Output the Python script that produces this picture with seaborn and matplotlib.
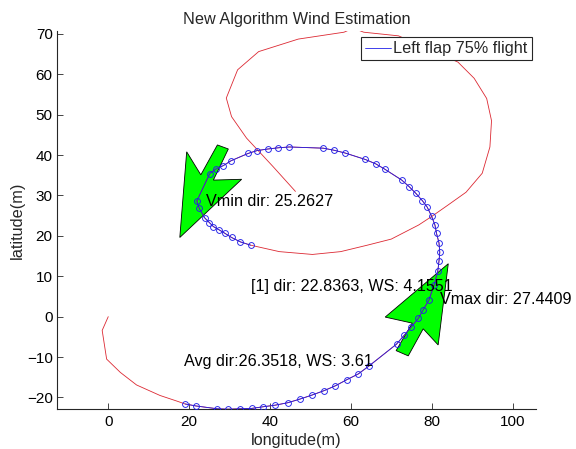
import matplotlib
matplotlib.use("Agg")
import matplotlib.pyplot as plt
import seaborn as sns
import pandas as pd

# ---------------- data ----------------
red_start_x = [0.0, -1.5, -0.4, 3.0, 7.0, 12.8, 17.0]
red_start_y = [0.0, -3.4, -10.5, -13.8, -16.9, -19.5, -20.9]

blue_x = [19.0, 21.7, 27.0, 29.6, 32.5, 35.5, 38.3, 41.3, 44.4, 47.4, 50.4, 53.4,
          56.2, 59.0, 61.8, 64.5, 71.3, 73.2, 75.0, 76.7, 77.9, 79.3, 80.6, 81.5,
          81.8, 82.0, 81.8, 81.2, 80.8, 80.0, 78.9, 77.7, 76.1, 74.4, 72.6, 68.4,
          66.2, 63.6, 58.6, 55.8, 53.2, 44.8, 42.1, 39.5, 36.8, 34.6, 30.4, 28.5,
          26.7, 25.1, 21.9, 22.5, 23.9, 25.0, 26.0, 27.4, 28.9, 30.5, 32.7, 35.2]
blue_y = [-21.6, -22.1, -22.8, -22.9, -22.8, -22.7, -22.3, -21.9, -21.3, -20.4, -19.4, -18.3,
          -17.1, -15.6, -14.2, -12.2, -6.8, -4.6, -2.5, -0.4, 1.7, 4.1, 7.8, 11.2,
          13.7, 15.9, 18.3, 20.6, 22.7, 24.8, 27.1, 28.7, 30.5, 32.2, 33.8, 36.5,
          37.8, 38.9, 40.5, 41.2, 41.7, 42.0, 41.8, 41.5, 41.1, 40.4, 38.6, 37.4,
          36.6, 35.4, 28.6, 26.8, 24.4, 23.3, 22.3, 21.5, 20.6, 19.6, 18.5, 17.7]

red_end_x = [42.3, 50.5, 57.5, 64.1, 70.0, 76.8, 80.0, 84.0, 88.5, 92.5, 94.4, 94.8,
             93.6, 90.5, 86.5, 71.8, 63.2, 60.6, 58.3, 47.0, 37.2, 32.0, 29.2, 30.5,
             34.2, 40.8, 46.3]
red_end_y = [16.1, 15.4, 16.1, 17.7, 19.2, 22.7, 24.8, 27.6, 30.8, 35.5, 42.0, 48.5,
             54.0, 59.0, 63.0, 69.5, 70.4, 71.4, 70.4, 68.7, 65.6, 61.1, 54.1, 49.5,
             44.2, 37.1, 31.0]

# wind arrows (polygon vertices in data units)
arrow1_x = [17.7, 19.4, 22.9, 27.0, 29.7, 26.0, 33.0]
arrow1_y = [19.6, 40.8, 35.1, 42.5, 41.5, 33.8, 34.0]
arrow2_x = [84.1, 81.6, 77.9, 74.2, 71.2, 75.2, 68.5]
arrow2_y = [13.1, -7.0, -3.0, -9.7, -8.4, -1.6, -0.1]

# annotations
ann_texts = ["Vmin dir: 25.2627", "[1] dir: 22.8363, WS: 4.1551",
             "Vmax dir: 27.4409", "Avg dir:26.3518, WS: 3.61"]
ann_x = [24.2, 35.4, 82.0, 18.8]
ann_y = [28.6, 7.4, 4.2, -11.1]

title = "New Algorithm Wind Estimation"
xlabel = "longitude(m)"
ylabel = "latitude(m)"
legend_label = "Left flap 75% flight"
xticks = [0, 20, 40, 60, 80, 100]
yticks = [-20, -10, 0, 10, 20, 30, 40, 50, 60, 70]

# ---------------- style ----------------
sns.set_theme(style="white")
plt.rcParams["font.family"] = ["Liberation Sans", "DejaVu Sans"]
plt.rcParams["axes.edgecolor"] = "#262626"

W, H = 576, 449
fig = plt.figure(figsize=(W / 100, H / 100), dpi=100)
ax = fig.add_axes([57.3 / W, 1 - 409 / H, (536 - 57.3) / W, (409 - 31) / H])

red_df = pd.DataFrame({"x": red_start_x + blue_x + red_end_x,
                       "y": red_start_y + blue_y + red_end_y})
blue_df = pd.DataFrame({"x": blue_x, "y": blue_y})

# arrows (below lines)
ax.fill(arrow1_x, arrow1_y, facecolor="#00ff00", edgecolor="black", lw=0.6, zorder=1)
ax.fill(arrow2_x, arrow2_y, facecolor="#00ff00", edgecolor="black", lw=0.6, zorder=1)

sns.lineplot(data=red_df, x="x", y="y", sort=False, estimator=None, ax=ax,
             color="#dc2832", lw=0.6, zorder=2)
sns.lineplot(data=blue_df, x="x", y="y", sort=False, estimator=None, ax=ax,
             color="#2020e8", lw=0.6, zorder=3, label=legend_label)
ax.plot(blue_x, blue_y, linestyle="none", marker="o", ms=4.2, mfc="none",
        mec="#2020e8", mew=0.65, zorder=3)

for t, x, y in zip(ann_texts, ann_x, ann_y):
    ax.text(x, y, t, ha="left", va="center", fontsize=11.6, color="black",
            zorder=4, clip_on=False)

ax.set_xlim(-12.6, 105.8)
ax.set_ylim(-22.85, 70.7)
ax.set_xticks(xticks)
ax.set_yticks(yticks)
ax.tick_params(direction="in", length=4, width=0.6, labelsize=11,
               bottom=True, left=True, top=False, right=False, colors="#262626")
ax.tick_params(axis="x", pad=4.5)
ax.tick_params(axis="y", pad=3.3)
for lbl in ax.get_xticklabels() + ax.get_yticklabels():
    lbl.set_color("black")
for s in ["top", "right"]:
    ax.spines[s].set_visible(False)
for s in ["left", "bottom"]:
    ax.spines[s].set_linewidth(0.8)

ax.set_title(title, fontsize=11.7, pad=5)
ax.set_xlabel(xlabel, fontsize=11.7, labelpad=2.5)
ax.set_ylabel(ylabel, fontsize=11.7, labelpad=1.5)

handles, labels = ax.get_legend_handles_labels()
leg = ax.legend(handles[:1], labels[:1], loc="upper right",
                bbox_to_anchor=(531.5 / W, 1 - 37.3 / H), bbox_transform=fig.transFigure,
                fontsize=11.7, handlelength=1.6, handletextpad=0.15, borderpad=0.25,
                borderaxespad=0, fancybox=False, framealpha=1, edgecolor="#262626")
leg.get_frame().set_linewidth(0.8)

fig.savefig("out.png", dpi=100)
